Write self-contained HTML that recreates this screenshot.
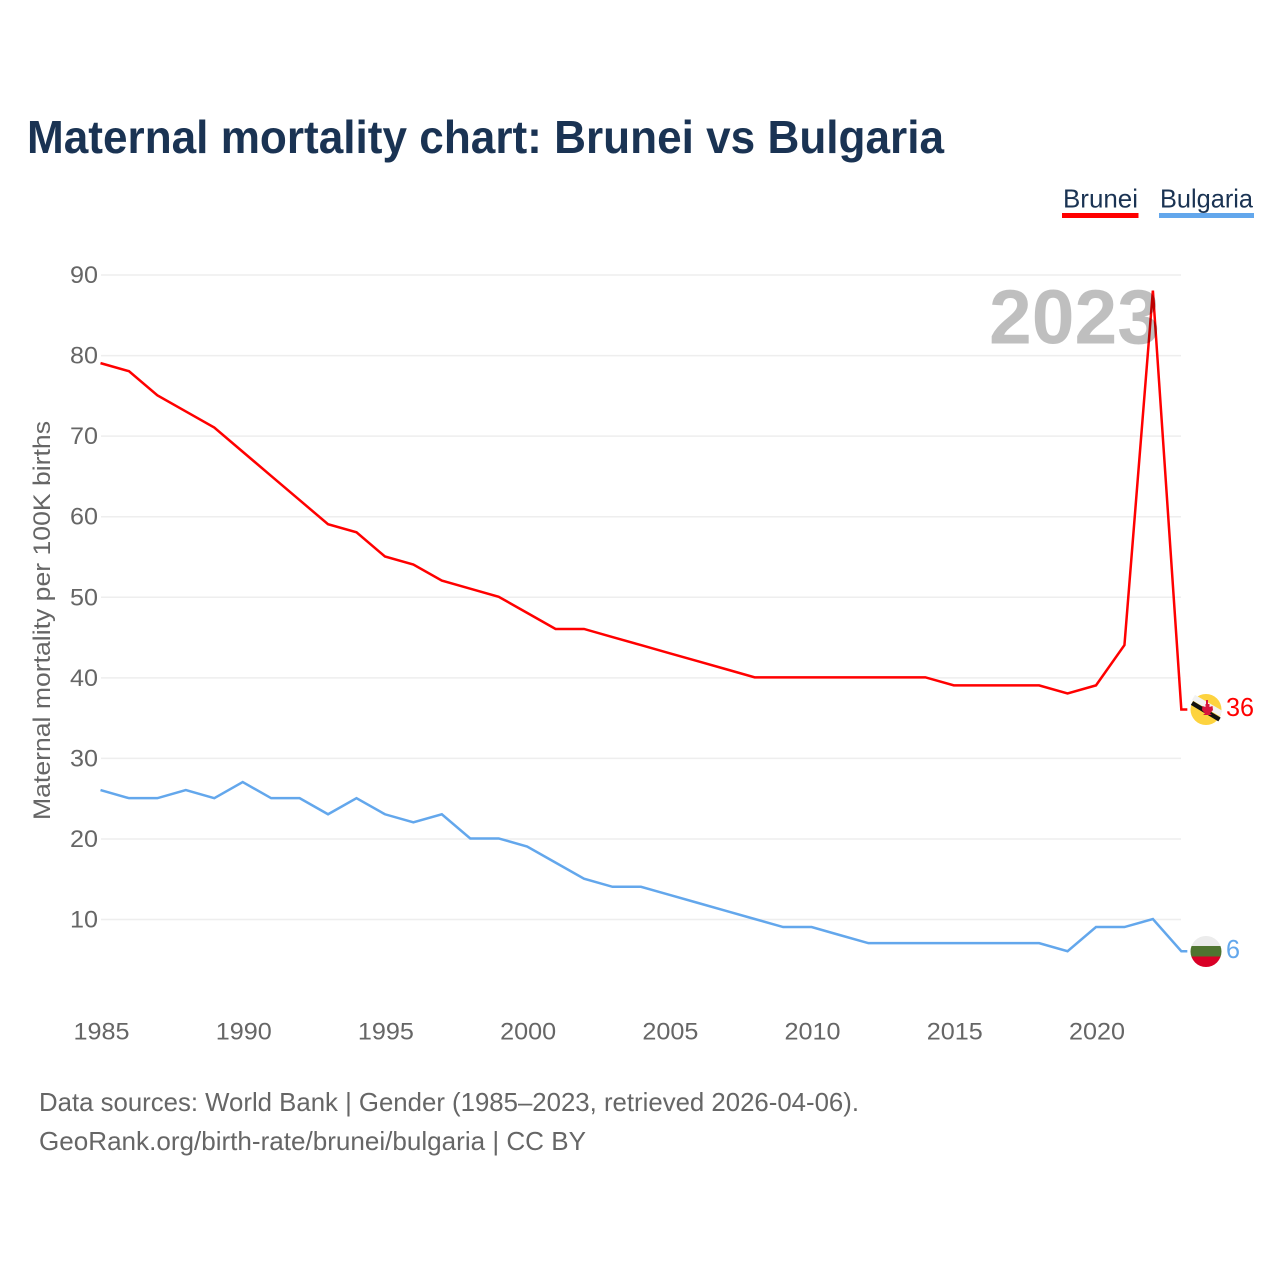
<!DOCTYPE html>
<html lang="en">
<head>
<meta charset="utf-8">
<title>Maternal mortality chart: Brunei vs Bulgaria</title>
<style>
html,body{margin:0;padding:0;background:#fff;width:1280px;height:1280px;overflow:hidden}
svg{display:block}
text{font-family:"Liberation Sans",sans-serif}
</style>
</head>
<body>
<svg id="chart" width="1280" height="1280" viewBox="0 0 1280 1280" xmlns="http://www.w3.org/2000/svg">
  <rect x="0" y="0" width="1280" height="1280" fill="#fff"/>
  <text x="27" y="153" font-size="46" font-weight="700" fill="#1a3353" textLength="917" lengthAdjust="spacingAndGlyphs">Maternal mortality chart: Brunei vs Bulgaria</text>

  <g>
    <g>
      <text x="1063" y="207.500" font-size="26" fill="#1a3353" textLength="75" lengthAdjust="spacingAndGlyphs">Brunei</text>
      <rect x="1062" y="213" width="76.500" height="5" fill="#ff0000"/>
    </g>
    <g>
      <text x="1160" y="207.500" font-size="26" fill="#1a3353" textLength="93" lengthAdjust="spacingAndGlyphs">Bulgaria</text>
      <rect x="1159" y="213" width="95" height="5" fill="#63a7ec"/>
    </g>
  </g>

  <g id="grid"></g>
  <g id="yticks"></g>
  <g id="xticks"></g>
  <text transform="translate(50 620.500) rotate(-90)" text-anchor="middle" font-size="24.500" fill="#666" textLength="399" lengthAdjust="spacingAndGlyphs">Maternal mortality per 100K births</text>

  <g id="series" transform="translate(-0.5 -0.5)"></g>
  <text x="989" y="343.500" font-size="77" font-weight="700" fill="#000" fill-opacity="0.25" textLength="171" lengthAdjust="spacingAndGlyphs">2023</text>

  <defs>
    <clipPath id="flag-clip-brunei"><circle cx="1206" cy="709.500" r="15.500"/></clipPath>
    <clipPath id="flag-clip-bulgaria"><circle cx="1206" cy="951.500" r="15.500"/></clipPath>
  </defs>
  <g clip-path="url(#flag-clip-brunei)">
    <rect x="1190" y="693" width="32" height="33" fill="#fdd33f"/>
  </g>
  <line x1="1193.500" y1="697.500" x2="1221" y2="713.500" stroke="#f2f2f2" stroke-width="6"/>
  <line x1="1192" y1="703" x2="1219.500" y2="719.500" stroke="#111" stroke-width="4.500"/>
  <path d="M1206,700 h2 v4 h1.500 v3 l3,-1 l0.500,4 l-3,3.500 l2,1.500 h-9 l2,-1.500 l-3,-3.500 l0.500,-4 l3,1 v-3 h0.500 z" fill="#d9153c"/>
  <g clip-path="url(#flag-clip-bulgaria)">
    <rect x="1190" y="936" width="32" height="10.500" fill="#ececec"/>
    <rect x="1190" y="946" width="32" height="11" fill="#4f7430"/>
    <rect x="1190" y="956.500" width="32" height="11" fill="#d90026"/>
  </g>
  <text x="1226" y="716" font-size="26" fill="#ff0000" textLength="28" lengthAdjust="spacingAndGlyphs">36</text>
  <text x="1226" y="958" font-size="26" fill="#63a7ec" textLength="14" lengthAdjust="spacingAndGlyphs">6</text>

  <text x="39" y="1111" font-size="26" fill="#666" textLength="820" lengthAdjust="spacingAndGlyphs">Data sources: World Bank | Gender (1985–2023, retrieved 2026-04-06).</text>
  <text x="39" y="1150" font-size="26" fill="#666" textLength="547" lengthAdjust="spacingAndGlyphs">GeoRank.org/birth-rate/brunei/bulgaria | CC BY</text>
</svg>
<script>
const years = [1985,1986,1987,1988,1989,1990,1991,1992,1993,1994,1995,1996,1997,1998,1999,2000,2001,2002,2003,2004,2005,2006,2007,2008,2009,2010,2011,2012,2013,2014,2015,2016,2017,2018,2019,2020,2021,2022,2023];
const bruneiValues = [79,78,75,73,71,68,65,62,59,58,55,54,52,51,50,48,46,46,45,44,43,42,41,40,40,40,40,40,40,40,39,39,39,39,38,39,44,88,36];
const bulgariaValues = [26,25,25,26,25,27,25,25,23,25,23,22,23,20,20,19,17,15,14,14,13,12,11,10,9,9,8,7,7,7,7,7,7,7,6,9,9,10,6];
const yTickValues = [10,20,30,40,50,60,70,80,90];
const xTickValues = [1985,1990,1995,2000,2005,2010,2015,2020];

const SVG_NS = 'http://www.w3.org/2000/svg';
function xScale(year) { return 101 + (year - 1985) * (1096.5 - 101) / 35; }
function yScale(value) { return 919.5 - (value - 10) * (919.5 - 275) / 80; }

const gridGroup = document.getElementById('grid');
const yTickGroup = document.getElementById('yticks');
const xTickGroup = document.getElementById('xticks');
const seriesGroup = document.getElementById('series');

yTickValues.forEach(function (v) {
  const line = document.createElementNS(SVG_NS, 'line');
  
  
  line.setAttribute('x1', 101);
  line.setAttribute('x2', 1181);
  line.setAttribute('y1', yScale(v));
  line.setAttribute('y2', yScale(v));
  line.setAttribute('stroke', '#eeeeee');
  line.setAttribute('stroke-width', '1.5');
  gridGroup.appendChild(line);

  const label = document.createElementNS(SVG_NS, 'text');
  
  
  label.setAttribute('x', 98);
  label.setAttribute('y', yScale(v) + 8);
  label.setAttribute('text-anchor', 'end');
  label.setAttribute('font-size', '24.5');
  label.setAttribute('fill', '#666');
  label.setAttribute('textLength', '28');
  label.setAttribute('lengthAdjust', 'spacingAndGlyphs');
  label.textContent = String(v);
  yTickGroup.appendChild(label);
});

xTickValues.forEach(function (y) {
  const label = document.createElementNS(SVG_NS, 'text');
  
  
  label.setAttribute('x', xScale(y) + 0.5);
  label.setAttribute('y', 1039.5);
  label.setAttribute('text-anchor', 'middle');
  label.setAttribute('font-size', '24.5');
  label.setAttribute('fill', '#666');
  label.setAttribute('textLength', '56');
  label.setAttribute('lengthAdjust', 'spacingAndGlyphs');
  label.textContent = String(y);
  xTickGroup.appendChild(label);
});

function linePoints(values) {
  const pts = values.map(function (v, i) { return xScale(years[i]) + ',' + yScale(v); });
  const last = values[values.length - 1];
  pts.push((xScale(years[years.length - 1]) + 6) + ',' + yScale(last));
  return pts.join(' ');
}

const bruneiLine = document.createElementNS(SVG_NS, 'polyline');


bruneiLine.setAttribute('points', linePoints(bruneiValues));
bruneiLine.setAttribute('fill', 'none');
bruneiLine.setAttribute('stroke', '#ff0000');
bruneiLine.setAttribute('stroke-width', '2.5');
seriesGroup.appendChild(bruneiLine);

const bulgariaLine = document.createElementNS(SVG_NS, 'polyline');


bulgariaLine.setAttribute('points', linePoints(bulgariaValues));
bulgariaLine.setAttribute('fill', 'none');
bulgariaLine.setAttribute('stroke', '#63a7ec');
bulgariaLine.setAttribute('stroke-width', '2.5');
seriesGroup.appendChild(bulgariaLine);
</script>
</body>
</html>
